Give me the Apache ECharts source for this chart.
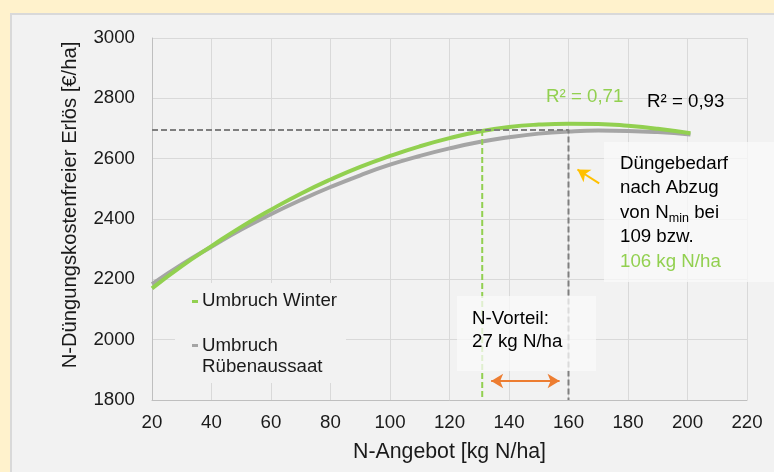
<!DOCTYPE html>
<html>
<head>
<meta charset="utf-8">
<script src="https://cdn.jsdelivr.net/npm/echarts@6/dist/echarts.min.js"></script>
<style>
  html, body { margin: 0; padding: 0; background: #FFF2CC; }
  #panel {
    position: absolute; left: 10px; top: 13px; width: 800px; height: 500px;
    background: #F2F2F2; border: 2px solid #D9D9D9;
  }
  #chart { position: absolute; left: 0; top: 0; width: 774px; height: 472px; }
</style>
</head>
<body>
<div id="panel"></div>
<div id="chart"></div>
<script>
// N-Angebot [kg N/ha]
var nAngebot = [20, 30, 40, 50, 60, 70, 80, 90, 100, 110, 120, 130, 140, 150, 160, 170, 180, 190, 201];
// Erlös Umbruch Winter [€/ha]
var winter = [2170, 2244, 2310, 2374, 2431, 2484, 2531, 2573, 2609, 2641, 2668, 2690, 2705, 2713, 2716, 2715, 2709, 2699, 2684];
// Erlös Umbruch Rübenaussaat [€/ha]
var ruebe = [2184, 2249, 2308, 2365, 2416, 2463, 2506, 2545, 2580, 2609, 2634, 2655, 2671, 2683, 2690, 2693, 2692, 2688, 2680];

var seriesNames = ['Umbruch Winter', 'Umbruch Rübenaussaat'];

// Hilfslinien (Optimum)
var optimumY = 2695;
var optWinterX = 131;
var optRuebeX = 160;
// N-Vorteil Pfeil
var vorteilArrow = [[134, 1863], [157, 1863]];
// Pfeil auf Düngebedarf
var bedarfArrow = [[170.3, 2518], [163, 2564]];

var xTicks = { min: 20, max: 220, step: 20 };
var yTicks = { min: 1800, max: 3000, step: 200 };

function pairs(xs, ys) {
  return xs.map(function (x, i) { return [x, ys[i]]; });
}

var font = 'Liberation Sans, Arial, sans-serif';
var green = '#92D050';
var grey = '#A5A5A5';

var myChart = echarts.init(document.getElementById('chart'));

var option = {
  animation: false,
  backgroundColor: 'transparent',
  textStyle: { fontFamily: font },
  grid: { left: 152, top: 38, right: 27, bottom: 72 },
  xAxis: {
    type: 'value',
    min: xTicks.min, max: xTicks.max, interval: xTicks.step,
    name: 'N-Angebot [kg N/ha]',
    nameLocation: 'middle',
    nameGap: 42,
    nameTextStyle: { fontSize: 21.3, color: '#1a1a1a', fontFamily: font },
    axisLine: { lineStyle: { color: '#BFBFBF', width: 1 } },
    axisTick: { show: false },
    axisLabel: { fontSize: 18.7, color: '#1a1a1a', margin: 13, fontFamily: font },
    splitLine: { lineStyle: { color: '#D9D9D9', width: 1 } }
  },
  yAxis: {
    type: 'value',
    min: yTicks.min, max: yTicks.max, interval: yTicks.step,
    name: 'N-Düngungskostenfreier Erlös [€/ha]',
    nameLocation: 'middle',
    nameGap: 72,
    nameTextStyle: { fontSize: 20.2, color: '#1a1a1a', fontFamily: font, padding: [0, 0, 0, 28] },
    axisLine: { show: true, lineStyle: { color: '#BFBFBF', width: 1 } },
    axisTick: { show: false },
    axisLabel: {
      fontSize: 18.7, color: '#1a1a1a', margin: 17, fontFamily: font,
      formatter: function (v) { return String(v); }
    },
    splitLine: { lineStyle: { color: '#D9D9D9', width: 1 } }
  },
  series: [
    {
      name: seriesNames[1],
      type: 'line',
      smooth: true,
      showSymbol: false,
      data: pairs(nAngebot, ruebe),
      lineStyle: { color: grey, width: 4 },
      itemStyle: { color: grey },
      z: 3
    },
    {
      name: seriesNames[0],
      type: 'line',
      smooth: true,
      showSymbol: false,
      data: pairs(nAngebot, winter),
      lineStyle: { color: green, width: 4 },
      itemStyle: { color: green },
      z: 4
    },
    {
      name: 'optimum-h',
      type: 'line',
      showSymbol: false,
      data: [[xTicks.min, optimumY], [optRuebeX, optimumY], [optRuebeX, yTicks.min]],
      lineStyle: { color: '#7F7F7F', width: 2, type: [6, 3] },
      z: 5,
      silent: true,
      markLine: {
        silent: true,
        label: { show: false },
        data: [
          [
            { coord: vorteilArrow[0], symbol: 'arrow', lineStyle: { color: '#ED7D31', width: 2, type: 'solid' } },
            { coord: vorteilArrow[1], symbol: 'arrow' }
          ],
          [
            { coord: bedarfArrow[0], symbol: 'none', lineStyle: { color: '#FFC000', width: 2, type: 'solid' } },
            { coord: bedarfArrow[1], symbol: 'arrow' }
          ]
        ],
        symbolSize: [11, 12]
      }
    },
    {
      name: 'optimum-winter',
      type: 'line',
      showSymbol: false,
      data: [[optWinterX, optimumY], [optWinterX, yTicks.min]],
      lineStyle: { color: green, width: 2, type: [6, 3] },
      z: 5,
      silent: true
    }
  ],
  graphic: [
    // Legende
    {
      type: 'rect', left: 175, top: 283, z: 8,
      shape: { width: 171, height: 100 },
      style: { fill: '#F2F2F2' }
    },
    {
      type: 'rect', left: 192, top: 300, z: 10,
      shape: { width: 6, height: 3 },
      style: { fill: green }
    },
    {
      type: 'text', left: 202, top: 291, z: 10,
      style: { text: seriesNames[0], fill: '#1a1a1a', font: '18.7px ' + font }
    },
    {
      type: 'rect', left: 192, top: 344, z: 10,
      shape: { width: 6, height: 3 },
      style: { fill: grey }
    },
    {
      type: 'text', left: 202, top: 335, z: 10,
      style: { text: 'Umbruch\nRübenaussaat', fill: '#1a1a1a', font: '18.7px ' + font, lineHeight: 21.5 }
    },
    // Bestimmtheitsmaße
    {
      type: 'text', left: 546, top: 87, z: 10,
      style: { text: 'R² = 0,71', fill: green, font: '18.7px ' + font }
    },
    {
      type: 'text', left: 647, top: 92, z: 10,
      style: { text: 'R² = 0,93', fill: '#000', font: '18.7px ' + font }
    },
    // N-Vorteil
    {
      type: 'rect', left: 457, top: 296, z: 8,
      shape: { width: 139, height: 75 },
      style: { fill: 'rgba(250,250,250,0.75)' }
    },
    {
      type: 'text', left: 472, top: 307, z: 10,
      style: {
        text: 'N-Vorteil:\n27 kg N/ha',
        fill: '#000', font: '18.7px ' + font, lineHeight: 23
      }
    },
    // Düngebedarf
    {
      type: 'rect', left: 604, top: 142, z: 8,
      shape: { width: 180, height: 140 },
      style: { fill: 'rgba(250,250,250,0.75)' }
    },
    {
      type: 'text', left: 620, top: 154, z: 10,
      style: {
        text: '{a|Düngebedarf}\n{a|nach Abzug}\n{a|von N}{s|min}{a| bei}\n{a|109 bzw.}\n{g|106 kg N/ha}',
        rich: {
          a: { fill: '#000', fontSize: 18.7, fontFamily: font, lineHeight: 24.6 },
          s: { fill: '#000', fontSize: 12.5, fontFamily: font, lineHeight: 12, verticalAlign: 'bottom' },
          g: { fill: green, fontSize: 18.7, fontFamily: font, lineHeight: 24.6 }
        }
      }
    }
  ]
};

myChart.setOption(option);
</script>
</body>
</html>
